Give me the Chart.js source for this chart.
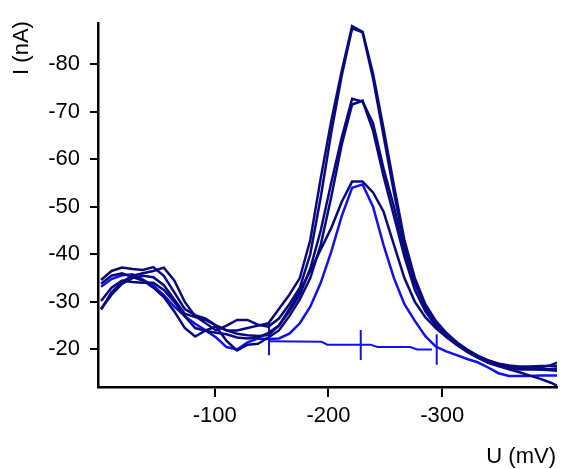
<!DOCTYPE html>
<html>
<head>
<meta charset="utf-8">
<script src="https://cdn.jsdelivr.net/npm/chart.js@4.4.0/dist/chart.umd.min.js"></script>
<style>
  html, body { margin: 0; padding: 0; background: #fff; }
</style>
</head>
<body>
<canvas id="ivChart" width="564" height="469"></canvas>
<script>
// potential (mV) of each sample, shared by all scans
const potentials = [0, -9.2, -18.4, -27.6, -36.8, -46, -55.2, -64.4, -73.6, -82.8,
  -92, -101.2, -110.4, -119.6, -128.8, -138, -147.2, -156.4, -165.6, -174.8,
  -184, -193.2, -202.4, -211.6, -220.8, -230, -239.2, -248.4, -257.6, -266.8,
  -276, -285.2, -294.4, -303.6, -312.8, -322, -331.2, -340.4, -349.6, -358.8,
  -368, -377.2, -386.4, -395.6, -401];

// current (nA) per scan
const scan1 = [-34.6, -36.5, -37.2, -36.9, -36.7, -37.3, -35.5, -32, -28.5, -27.2,
  -26.5, -25, -24, -24, -24.5, -25, -25.5, -28.5, -31.5, -35,
  -43, -56, -68, -78.5, -88, -86.8, -78, -66.5, -54.5, -43,
  -35, -29.5, -26, -23.5, -21.5, -20, -18.6, -17.6, -16.8, -16.3,
  -16, -16, -16.2, -16.7, -17.2];
const scan2 = [-28.4, -32, -34.2, -35.5, -36, -36.5, -37.2, -34.5, -30, -27,
  -25.5, -24, -25, -26.2, -26.2, -25.2, -24.8, -26.5, -29.5, -33,
  -40, -52, -65.5, -77.5, -87.5, -86.7, -77, -65, -53, -42,
  -34, -28.8, -25.2, -22.8, -21, -19.6, -18.3, -17.2, -16.5, -16,
  -15.8, -15.8, -15.8, -15.9, -16];
const scan3 = [-30.2, -33, -34.5, -34.2, -34, -34, -32.5, -30, -27, -24.5,
  -23.9, -23.5, -23.2, -22.5, -22.3, -22.5, -23.5, -25, -28, -31.5,
  -37, -45, -55, -64.5, -72.7, -72.1, -67.6, -58.1, -50, -40.9,
  -33.8, -29.2, -25.7, -23.3, -21.4, -19.9, -18.7, -17.7, -17, -16.5,
  -16.2, -16, -15.8, -15.6, -15.5];
const scan4 = [-33.8, -35.5, -36, -35.2, -34.5, -33, -31, -28, -24.5, -22.7,
  -24, -24.8, -21.8, -19.8, -21, -21.2, -22.5, -24, -27, -30.5,
  -35, -42, -52, -63, -71.5, -72.3, -66, -56.5, -48, -39.5,
  -32.5, -28, -25, -22.8, -21, -19.5, -18.3, -17.3, -16.5, -15.8,
  -15.2, -14.5, -13.8, -13, -12.4];
const scan5 = [-28.5, -31.5, -33.8, -35, -35.5, -35.2, -33.5, -30.5, -27.5, -26.8,
  -26.2, -25, -24, -23.3, -23, -22.8, -23, -25, -28.5, -32.3,
  -36.5, -41, -45.5, -51, -55.3, -55.3, -53, -49, -42, -35,
  -30, -26.8, -24.5, -22.6, -21, -19.7, -18.6, -17.7, -17, -16.6,
  -16.4, -16.4, -16.5, -16.5, -16.5];
const scanBlue = [-33.2, -34.8, -35.6, -35.8, -34.7, -33.4, -31.4, -29, -27, -25.4,
  -24, -22.5, -20.5, -20, -21.5, -22.3, -22.2, -22.3, -23.3, -25.5,
  -29, -34, -40.5, -48, -54, -54.7, -50, -42, -35, -29.5,
  -26, -22.8, -20.6, -19.6, -18.8, -18, -17.3, -16.2, -15, -14.4,
  -14.4, -14.4, -14.5, -14.5, -14.5];

// fitted baseline and its markers
const baselineU = [-147.7, -194, -199, -237, -243, -272, -278, -291];
const baselineI = [-21.7, -21.6, -21.0, -21.0, -20.5, -20.5, -20.0, -20.0];
const markerU = [-147.7, -228.4, -295.2];
const markerTop = [-25.4, -24.1, -23.2];
const markerBottom = [-18.8, -17.8, -16.8];

const xTicks = [-100, -200, -300];
const yTicks = [-20, -30, -40, -50, -60, -70, -80];

const NAVY = '#0a0a80';
const BLUE = '#1010f0';
const FONT = 'Liberation Sans, Arial, sans-serif';

function toPoints(xs, ys) {
  return xs.map((x, i) => ({ x: x, y: ys[i] }));
}

function curve(values, color) {
  return {
    data: toPoints(potentials, values),
    borderColor: color,
    borderWidth: 2.5,
    pointRadius: 0,
    tension: 0,
    fill: false
  };
}

const datasets = [
  curve(scan1, NAVY),
  curve(scan2, NAVY),
  curve(scan3, NAVY),
  curve(scan4, NAVY),
  curve(scan5, NAVY),
  curve(scanBlue, BLUE),
  {
    data: toPoints(baselineU, baselineI),
    borderColor: BLUE, borderWidth: 2, pointRadius: 0, tension: 0, fill: false
  }
];
markerU.forEach((u, i) => {
  datasets.push({
    data: [{ x: u, y: markerTop[i] }, { x: u, y: markerBottom[i] }],
    borderColor: BLUE, borderWidth: 2, pointRadius: 0, fill: false
  });
});

// axis titles
const axisTitles = {
  id: 'axisTitles',
  afterDraw(chart) {
    const ctx = chart.ctx;
    ctx.save();
    ctx.fillStyle = '#000';
    ctx.font = '22px ' + FONT;
    ctx.textAlign = 'right';
    ctx.textBaseline = 'middle';
    ctx.fillText('U (mV)', 556, 457);
    ctx.translate(22, 48);
    ctx.rotate(-Math.PI / 2);
    ctx.textAlign = 'center';
    ctx.fillText('I (nA)', 0, 0);
    ctx.restore();
  }
};

new Chart(document.getElementById('ivChart'), {
  type: 'line',
  data: { datasets: datasets },
  options: {
    responsive: false,
    animation: false,
    devicePixelRatio: 1,
    layout: { padding: { top: 9, right: 7, left: 0, bottom: 0 } },
    plugins: { legend: { display: false }, tooltip: { enabled: false } },
    scales: {
      x: {
        type: 'linear',
        reverse: true,
        min: -401,
        max: 2.7,
        afterBuildTicks: s => { s.ticks = xTicks.map(v => ({ value: v })); },
        afterFit: s => { s.height = 82; },
        grid: { drawOnChartArea: false, drawTicks: true, tickLength: 10, color: '#000', lineWidth: 2 },
        border: { display: true, color: '#000', width: 2.5 },
        ticks: { color: '#000', padding: 6, maxRotation: 0, font: { family: FONT, size: 22 } }
      },
      y: {
        type: 'linear',
        reverse: true,
        min: -88.6,
        max: -12.1,
        afterBuildTicks: s => { s.ticks = yTicks.map(v => ({ value: v })); },
        afterFit: s => { s.width = 98; },
        grid: { drawOnChartArea: false, drawTicks: true, tickLength: 8, color: '#000', lineWidth: 2 },
        border: { display: true, color: '#000', width: 2.5 },
        ticks: { color: '#000', padding: 10, font: { family: FONT, size: 22 } }
      }
    }
  },
  plugins: [axisTitles]
});
</script>
</body>
</html>
